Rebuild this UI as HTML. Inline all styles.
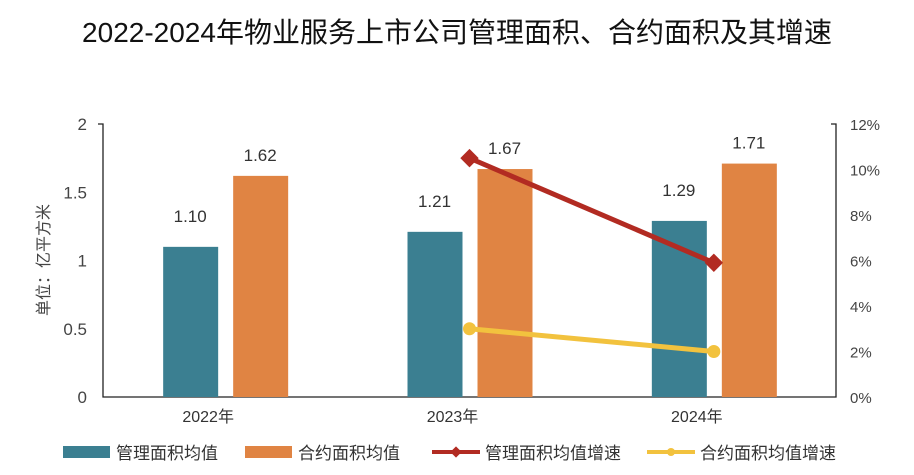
<!DOCTYPE html>
<html><head><meta charset="utf-8"><style>
body{margin:0;background:#fff;font-family:"Liberation Sans","Noto Sans CJK SC",sans-serif;}
svg text{font-family:"Liberation Sans","Noto Sans CJK SC",sans-serif;}
</style></head><body>
<svg id="c" width="914" height="470" xmlns="http://www.w3.org/2000/svg">
<text x="457" y="42" text-anchor="middle" font-size="28" fill="#111">2022-2024年物业服务上市公司管理面积、合约面积及其增速</text>
<g id="plot"></g>
</svg>
<script>
const categories=["2022年","2023年","2024年"];
const mgmtArea=[1.10,1.21,1.29];
const contractArea=[1.62,1.67,1.71];
const mgmtGrowth=[null,10.5,5.9];
const contractGrowth=[null,3.0,2.0];
const leftTicks=[0,0.5,1,1.5,2];
const rightTicks=[0,2,4,6,8,10,12];
const NS="http://www.w3.org/2000/svg";
const g=document.getElementById('plot');
const X0=103,X1=836,Y0=397,Y1=124;
const band=(X1-X0)/categories.length;
const cx=i=>X0+band*(i+0.5);
const yL=v=>Y0-(v/2)*(Y0-Y1);
const yR=v=>Y0-(v/12)*(Y0-Y1);
function el(t,a,p){const e=document.createElementNS(NS,t);for(const k in a)e.setAttribute(k,a[k]);(p||g).appendChild(e);return e;}
function tx(x,y,s,a,sz,fill){const e=el('text',{x,y,'text-anchor':a||'middle','font-size':sz||16,fill:fill||'#333'});e.textContent=s;return e;}
let ax=el('path',{d:`M${X0-5} ${Y1}H${X0}V${Y0}H${X1}V${Y1}H${X1-5}`,fill:'none',stroke:'#222','stroke-width':1.3});


leftTicks.forEach(v=>{const t=tx(X0-16,yL(v)+6,String(v),'end',17,'#444');

});
rightTicks.forEach(v=>{const t=tx(X1+14,yR(v)+6,v+'%','start',15,'#444');

});
let yt=tx(0,0,'单位：亿平方米','middle',16,'#444');
yt.setAttribute('transform','translate(49,260) rotate(-90)');


categories.forEach((c,i)=>{
 const x=cx(i);
 const b1=el('rect',{x:x-62,y:yL(mgmtArea[i]),width:55,height:Y0-yL(mgmtArea[i]),fill:'#3b7f91'});
 
 
 const b2=el('rect',{x:x+8,y:yL(contractArea[i]),width:55,height:Y0-yL(contractArea[i]),fill:'#e08443'});
 
 
 const l1=tx(x-35,yL(mgmtArea[i])-25,mgmtArea[i].toFixed(2),'middle',17,'#333');
 
 
 const l2=tx(x+35,yL(contractArea[i])-15,contractArea[i].toFixed(2),'middle',17,'#333');
 
 
 const cl=tx(x-17,Y0+25,c,'middle',16,'#333');
 
 
});
function line(vals,color,name,marker){
 const pts=vals.map((v,i)=>v==null?null:[cx(i),yR(v)]).filter(p=>p);
 const p=el('polyline',{points:pts.map(p=>p.join(',')).join(' '),fill:'none',stroke:color,'stroke-width':5});
 
 
 pts.forEach(([x,y])=>{let m;
  if(marker==='d')m=el('rect',{x:x-6.5,y:y-6.5,width:13,height:13,fill:color,transform:`rotate(45 ${x} ${y})`});
  else m=el('circle',{cx:x,cy:y,r:6.5,fill:color});
  
  });
}
line(mgmtGrowth,'#b22b22','line-mgmt-growth','d');
line(contractGrowth,'#f2c23e','line-contract-growth','c');
const lg=[['管理面积均值','#3b7f91','bar',63],['合约面积均值','#e08443','bar',245],['管理面积均值增速','#b22b22','d',432],['合约面积均值增速','#f2c23e','c',647]];
lg.forEach(([n,c,t,x])=>{const y=452;
 let s;
 if(t==='bar')s=el('rect',{x,y:y-6,width:47,height:12,fill:c});
 else{s=el('line',{x1:x,y1:y,x2:x+48,y2:y,stroke:c,'stroke-width':4});
  if(t==='d')el('rect',{x:x+20,y:y-4,width:8,height:8,fill:c,transform:`rotate(45 ${x+24} ${y})`});
  else el('circle',{cx:x+24,cy:y,r:4,fill:c});}
 
 
 const l=tx(x+53,y+7,n,'start',17,'#333');
 
 
});
</script>
</body></html>
